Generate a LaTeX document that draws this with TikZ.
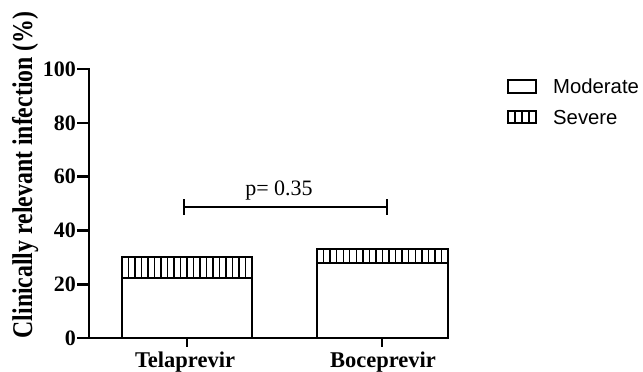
\documentclass[tikz,border=0pt]{standalone}
\usepackage{fontspec}
\setmainfont{Liberation Serif}
\newfontfamily\arialf{Liberation Sans}
\begin{document}
\begin{tikzpicture}[x=1pt,y=-1pt,
  axisline/.style={line width=2.6pt,line cap=rect},
  barline/.style={line width=2.3pt},
  hatchline/.style={line width=1.4pt},
  ticklab/.style={font=\fontsize{22}{25}\selectfont\bfseries,anchor=east,inner sep=0pt},
  catlab/.style={font=\fontsize{22.5}{25}\selectfont\bfseries,anchor=base,inner sep=0pt},
  leglab/.style={font=\arialf\fontsize{20.3}{23}\selectfont,anchor=base west,inner sep=0pt}]
\useasboundingbox (0,0) rectangle (643,372);
% y axis
\draw[axisline] (89,69) -- (89,338) -- (448,338);
\foreach \v/\yy in {0/338,20/284.2,40/230.4,60/176.6,80/122.8,100/69}{
  \draw[axisline] (78,\yy) -- (89,\yy);
  \node[ticklab] (t\v) at (76,\yy) {\v};
}
% x ticks
\draw[axisline] (187,338) -- (187,346);
\draw[axisline] (382,338) -- (382,346);
\node[catlab] (tela) at (185,367) {Telaprevir};
\node[catlab] (boce) at (383,367) {Boceprevir};
% y label
\node[rotate=90,anchor=base,inner sep=0pt,font=\fontsize{23.8}{27}\selectfont\bfseries] (ylab) at (32,175) {\scalebox{1}[1.2]{Clinically relevant infection (\%)}};
% Telaprevir bar
\foreach \i in {1,...,19}{ \draw[hatchline] (122+\i*6.5,257.3) -- (122+\i*6.5,278); }
\draw[barline] (122,338) -- (122,257.3) -- (252,257.3) -- (252,338);
\draw[barline] (122,278) -- (252,278);
% Boceprevir bar
\foreach \i in {1,...,19}{ \draw[hatchline] (317+\i*6.55,249.2) -- (317+\i*6.55,262.7); }
\draw[barline] (317,338) -- (317,249.2) -- (448,249.2) -- (448,338);
\draw[barline] (317,262.7) -- (448,262.7);
% significance bracket
\coordinate (bl) at (184,207);
\coordinate (br) at (387,207);
\draw[axisline,line cap=butt] (bl) -- (br);
\draw[axisline,line cap=butt] (184,199) -- (184,215);
\draw[axisline,line cap=butt] (387,199) -- (387,215);
\node[anchor=base,inner sep=0pt,font=\fontsize{22}{25}\selectfont] (pval) at (279,195) {p= 0.35};
% legend
\draw[barline] (508,80) rectangle (536,93);
\node[leglab] (lmod) at (553,93) {Moderate};
\foreach \i in {1,2,3}{ \draw[hatchline] (508+\i*7,111) -- (508+\i*7,123); }
\draw[barline] (508,111) rectangle (536,123);
\node[leglab] (lsev) at (553,124) {Severe};
\end{tikzpicture}
\end{document}
